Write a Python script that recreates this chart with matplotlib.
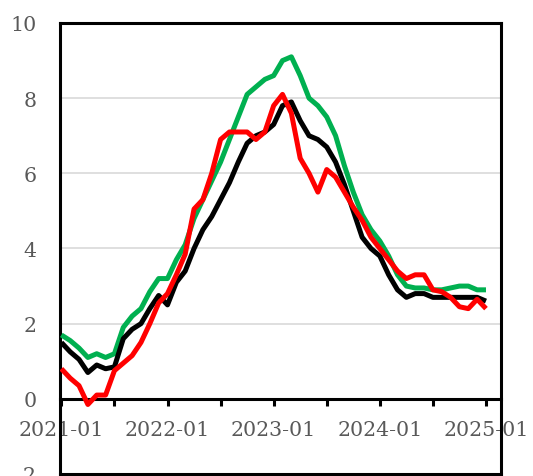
import numpy as np
import matplotlib
matplotlib.use("Agg")
import matplotlib.pyplot as plt
from matplotlib.ticker import MultipleLocator, FixedLocator

# monthly series, 2021-01 .. 2025-01
months = np.arange(49)
black = [1.5, 1.25, 1.05, 0.7, 0.9, 0.8, 0.85, 1.6, 1.85, 2.0, 2.4, 2.75,
         2.5, 3.1, 3.4, 4.0, 4.5, 4.85, 5.3, 5.75, 6.3, 6.8, 7.0, 7.1,
         7.3, 7.8, 7.9, 7.4, 7.0, 6.9, 6.7, 6.3, 5.7, 5.0, 4.3, 4.0,
         3.8, 3.3, 2.9, 2.7, 2.8, 2.8, 2.7, 2.7, 2.7, 2.7, 2.7, 2.7,
         2.6]
green = [1.7, 1.55, 1.35, 1.1, 1.2, 1.1, 1.2, 1.9, 2.2, 2.4, 2.85, 3.2,
         3.2, 3.7, 4.1, 4.8, 5.3, 5.8, 6.3, 6.9, 7.5, 8.1, 8.3, 8.5,
         8.6, 9.0, 9.1, 8.6, 8.0, 7.8, 7.5, 7.0, 6.2, 5.5, 4.9, 4.5,
         4.2, 3.8, 3.3, 3.0, 2.95, 2.95, 2.9, 2.9, 2.95, 3.0, 3.0, 2.9,
         2.9]
red = [0.8, 0.55, 0.35, -0.15, 0.1, 0.1, 0.75, 0.95, 1.15, 1.5, 2.0, 2.55,
       2.8, 3.3, 3.85, 5.05, 5.3, 6.0, 6.9, 7.1, 7.1, 7.1, 6.9, 7.1,
       7.8, 8.1, 7.6, 6.4, 6.0, 5.5, 6.1, 5.9, 5.5, 5.1, 4.75, 4.3,
       4.0, 3.7, 3.4, 3.2, 3.3, 3.3, 2.9, 2.85, 2.7, 2.45, 2.4, 2.65,
       2.4]
tick_labels = ["2021-01", "2022-01", "2023-01", "2024-01", "2025-01"]

grey = "#595959"
plt.rcParams["font.family"] = ["DejaVu Serif"]
plt.rcParams["axes.unicode_minus"] = False

fig = plt.figure(figsize=(5.33, 4.77), dpi=100)
ax = fig.add_axes([0.1126, 0.0042, 0.8274, 0.9455])

for v in [2, 4, 6, 8]:
    ax.axhline(v, color="#D9D9D9", lw=1.2, zorder=1)

kw = dict(lw=3.6, solid_joinstyle="round", solid_capstyle="butt", zorder=3)
ax.plot(months, green, color="#00B050", **kw)
ax.plot(months, black, color="black", **kw)
ax.plot(months, red, color="#FF0000", **kw)

ax.set_ylim(-2, 10)
ax.set_xlim(-0.15, 49.7)
ax.yaxis.set_major_locator(MultipleLocator(2))
ax.tick_params(axis="y", length=0, pad=17, labelsize=14.8, labelcolor=grey)

# x axis sits on zero, box closed at the bottom
ax.spines["bottom"].set_position(("data", 0))
for s in ax.spines.values():
    s.set_linewidth(2.2)
    s.set_color("black")
ax.plot([0, 1], [0, 0], transform=ax.transAxes, color="black", lw=2.2,
        clip_on=False, zorder=4)

ax.xaxis.set_major_locator(FixedLocator([0, 12, 24, 36, 48]))
ax.xaxis.set_minor_locator(FixedLocator([6, 18, 30, 42]))
ax.set_xticklabels(tick_labels)
ax.tick_params(axis="x", which="both", direction="out", length=5, width=2.2,
               color="black", pad=10, labelsize=14.8, labelcolor=grey)

fig.savefig("out.png", dpi=100)
